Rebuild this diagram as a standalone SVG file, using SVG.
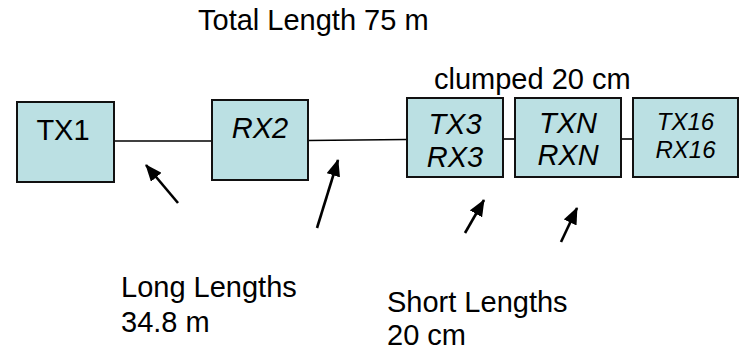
<svg xmlns="http://www.w3.org/2000/svg" width="744" height="352" viewBox="0 0 744 352">
<style>
  .box { fill: #BBE0E3; stroke: #111; stroke-width: 2; }
  .t { font-family: "Liberation Sans", Arial, sans-serif; font-size: 29px; fill: #000; }
  .i { font-style: italic; }
  .s { font-size: 24px; }
  .wire { stroke: #000; stroke-width: 1.6; fill: none; }
  .arr { stroke: #000; stroke-width: 2.6; fill: none; marker-end: url(#ah); }
</style>
<defs>
  <marker id="ah" markerUnits="userSpaceOnUse" markerWidth="18" markerHeight="14" viewBox="0 0 18 14" refX="16" refY="7" orient="auto">
    <path d="M0,0 L17,7 L0,14 Z" fill="#000"/>
  </marker>
</defs>
<rect width="744" height="352" fill="#fff"/>
<text class="t" x="198" y="30">Total Length 75 m</text>
<text class="t" x="434" y="89">clumped 20 cm</text>
<g id="connectors">
  <line class="wire" x1="114" y1="141" x2="212" y2="141"/>
  <line class="wire" x1="308" y1="140.5" x2="407" y2="139.5"/>
  <line class="wire" x1="503" y1="139" x2="515" y2="139"/>
  <line class="wire" x1="621" y1="139" x2="633" y2="139"/>
  <line class="arr" x1="178" y1="203" x2="146" y2="165"/>
  <line class="arr" x1="317" y1="228" x2="338" y2="160"/>
  <line class="arr" x1="465" y1="233" x2="484" y2="200"/>
  <line class="arr" x1="561" y1="242" x2="577" y2="208"/>
</g>
<g id="tx1">
  <rect class="box" x="17" y="102" width="97" height="80"/>
  <text class="t" x="63" y="140" text-anchor="middle">TX1</text>
</g>
<g id="rx2">
  <rect class="box" x="212" y="100" width="96" height="80"/>
  <text class="t i" x="260" y="138" text-anchor="middle">RX2</text>
</g>
<g id="tx3">
  <rect class="box" x="407" y="98" width="96" height="79"/>
  <text class="t i" x="455" y="134" text-anchor="middle">TX3</text>
  <text class="t i" x="455" y="167" text-anchor="middle">RX3</text>
</g>
<g id="txn">
  <rect class="box" x="515" y="98" width="106" height="79"/>
  <text class="t i" x="568" y="133" text-anchor="middle">TXN</text>
  <text class="t i" x="568" y="165" text-anchor="middle">RXN</text>
</g>
<g id="tx16">
  <rect class="box" x="633" y="98" width="105" height="79"/>
  <text class="t i s" x="685.5" y="130" text-anchor="middle">TX16</text>
  <text class="t i s" x="685.5" y="158" text-anchor="middle">RX16</text>
</g>
<text class="t" x="121" y="297">Long Lengths</text>
<text class="t" x="121" y="332">34.8 m</text>
<text class="t" x="387" y="312">Short Lengths</text>
<text class="t" x="387" y="345">20 cm</text>
</svg>
